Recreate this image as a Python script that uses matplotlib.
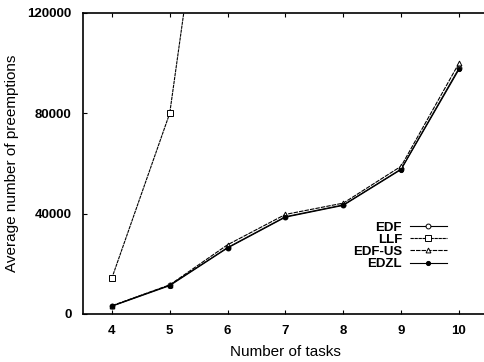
import matplotlib
matplotlib.use("Agg")
import matplotlib.pyplot as plt

tasks = [4, 5, 6, 7, 8, 9, 10]
edf = [3200, 11500, 26500, 38800, 43500, 57800, 98000]
llf = [14300, 80000, 245000, 400000, 500000, 600000, 700000]
edf_us = [3300, 11600, 27600, 39700, 44200, 58900, 100000]
edzl = [3100, 11300, 26300, 38600, 43300, 57600, 97500]

xticks = [4, 5, 6, 7, 8, 9, 10]
yticks = [0, 40000, 80000, 120000]

fig = plt.figure(figsize=(4.85, 3.62), dpi=100)
ax = fig.add_axes([0.171, 0.1326, 0.835, 0.8315])

lw = 0.8
ax.plot(tasks, edf, color="black", lw=lw, marker="o", ms=3.5, mfc="white", mew=0.7, label="EDF")
ax.plot(tasks, llf, color="black", lw=lw, marker="s", ms=4, mfc="white", mew=0.7, label="LLF", linestyle=(0, (3, 0.6)))
ax.plot(tasks, edf_us, color="black", lw=lw, marker="^", ms=3.5, mfc="white", mew=0.7, label="EDF-US", linestyle=(0, (4, 1)))
ax.plot(tasks, edzl, color="black", lw=lw, marker="o", ms=3, mfc="black", mew=0.7, label="EDZL")

ax.set_xlim(3.5, 10.5)
ax.set_ylim(0, 120000)
ax.set_xticks(xticks)
ax.set_yticks(yticks)
ax.set_xticklabels([str(t) for t in xticks], fontweight="bold", fontsize=9.5, family="Liberation Sans")
ax.set_yticklabels([str(t) for t in yticks], fontweight="bold", fontsize=9.5, family="Liberation Sans")
ax.tick_params(direction="in", top=True, right=True, length=3, width=0.8)
ax.tick_params(axis="x", pad=8)
ax.tick_params(axis="y", pad=8)
for s in ["top", "bottom", "left"]:
    ax.spines[s].set_linewidth(1.2)
ax.spines["right"].set_visible(False)

ax.set_xlabel("Number of tasks", fontsize=11, family="Liberation Sans", labelpad=6)
ax.set_ylabel("Average number of preemptions", fontsize=11, family="Liberation Sans", labelpad=6)

leg = ax.legend(loc="upper right", bbox_to_anchor=(0.915, 0.33), frameon=False, markerfirst=False,
                prop={"weight": "bold", "size": 9.5, "family": "Liberation Sans"},
                handlelength=2.8, labelspacing=0.0, handletextpad=0.6, borderpad=0)
for t in leg.get_texts():
    t.set_ha("right")

fig.savefig("out.png", dpi=100)
